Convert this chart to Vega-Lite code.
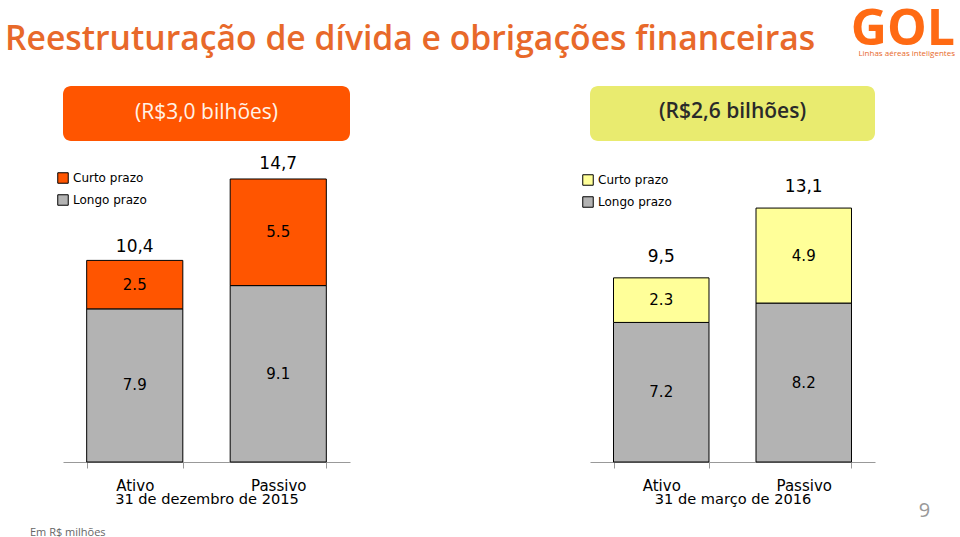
{
  "$schema": "https://vega.github.io/schema/vega-lite/v6.json",
  "background": "white",
  "padding": {"left": 5, "top": 5, "right": 0, "bottom": 0},
  "title": {"text": "Reestruturação de dívida e obrigações financeiras", "anchor": "start", "frame": "group", "color": "#E8692A", "font": "Open Sans", "fontSize": 33.7, "fontWeight": 600, "offset": -52, "dx": -58},
  "datasets": {
    "dez2015": [
      {"conta": "Ativo", "prazo": "Longo prazo", "valor": 7.9},
      {"conta": "Ativo", "prazo": "Curto prazo", "valor": 2.5},
      {"conta": "Passivo", "prazo": "Longo prazo", "valor": 9.1},
      {"conta": "Passivo", "prazo": "Curto prazo", "valor": 5.5}
    ],
    "dez2015_total": [
      {"conta": "Ativo", "total": 10.4},
      {"conta": "Passivo", "total": 14.7}
    ],
    "mar2016": [
      {"conta": "Ativo", "prazo": "Longo prazo", "valor": 7.2},
      {"conta": "Ativo", "prazo": "Curto prazo", "valor": 2.3},
      {"conta": "Passivo", "prazo": "Longo prazo", "valor": 8.2},
      {"conta": "Passivo", "prazo": "Curto prazo", "valor": 4.9}
    ],
    "mar2016_total": [
      {"conta": "Ativo", "total": 9.5},
      {"conta": "Passivo", "total": 13.1}
    ]
  },
  "spacing": 527,
  "bounds": "flush",
  "resolve": {"scale": {"color": "independent", "x": "independent", "y": "independent"}, "legend": {"color": "independent"}},
  "hconcat": [
    {
      "spacing": 0,
      "bounds": "flush",
      "resolve": {"scale": {"color": "independent", "x": "independent", "y": "independent"}},
      "vconcat": [
        {
          "width": 287,
          "height": 55,
          "view": {"fill": "#FF5500", "cornerRadius": 8, "stroke": null},
          "data": {"values": [{}]},
          "mark": {"type": "text", "text": "(R$3,0 bilhões)", "font": "Open Sans", "fontSize": 21, "color": "#FFF2E6", "baseline": "middle", "dy": -1},
          "encoding": {}
        },
        {
          "width": 287,
          "height": 321,
          "title": {"text": "Em R$ milhões", "orient": "bottom", "anchor": "start", "frame": "group", "dx": -33, "offset": 21, "fontSize": 11, "fontWeight": "normal", "color": "#666666", "font": "Open Sans"},
          "layer": [
            {
              "data": {"name": "dez2015"},
              "mark": {"type": "bar", "stroke": "#000000", "strokeWidth": 1},
              "encoding": {
                "x": {"field": "conta", "type": "nominal", "sort": ["Ativo", "Passivo"], "scale": {"paddingInner": 0.33, "paddingOuter": 0.165}, "axis": {"title": "31 de dezembro de 2015"}},
                "y": {"field": "valor", "type": "quantitative", "stack": "zero", "scale": {"domain": [0, 16.56]}, "axis": null},
                "color": {"field": "prazo", "type": "nominal", "scale": {"domain": ["Curto prazo", "Longo prazo"], "range": ["#FF5500", "#B3B3B3"]}, "legend": {"title": null, "orient": "none", "legendX": -6, "legendY": 31}},
                "order": {"field": "prazo", "type": "nominal", "sort": "descending"}
              }
            },
            {
              "data": {"name": "dez2015"},
              "transform": [
                {"stack": "valor", "groupby": ["conta"], "sort": [{"field": "prazo", "order": "descending"}], "as": ["v0", "v1"]},
                {"fold": ["v0", "v1"], "as": ["borda", "nivel"]},
                {"aggregate": [{"op": "mean", "field": "nivel", "as": "meio"}], "groupby": ["conta", "prazo", "valor"]}
              ],
              "mark": {"type": "text", "font": "DejaVu Sans", "fontSize": 15, "color": "#000000", "baseline": "middle"},
              "encoding": {
                "x": {"field": "conta", "type": "nominal", "sort": ["Ativo", "Passivo"]},
                "y": {"field": "meio", "type": "quantitative", "scale": {"domain": [0, 16.56]}},
                "text": {"field": "valor", "type": "nominal"}
              }
            },
            {
              "data": {"name": "dez2015_total"},
              "mark": {"type": "text", "font": "DejaVu Sans", "fontSize": 17, "color": "#000000", "baseline": "alphabetic", "dy": -8},
              "encoding": {
                "x": {"field": "conta", "type": "nominal", "sort": ["Ativo", "Passivo"]},
                "y": {"field": "total", "type": "quantitative", "scale": {"domain": [0, 16.56]}},
                "text": {"field": "total", "type": "quantitative", "format": ".1f"}
              }
            }
          ]
        }
      ]
    },
    {
      "spacing": 0,
      "bounds": "flush",
      "resolve": {"scale": {"color": "independent", "x": "independent", "y": "independent"}},
      "vconcat": [
        {
          "width": 285,
          "height": 55,
          "view": {"fill": "#E9EB6F", "cornerRadius": 8, "stroke": null},
          "title": {"text": "GOL", "subtitle": "Linhas aéreas inteligentes", "orient": "top", "anchor": "end", "frame": "group", "dx": 80, "offset": 28, "fontSize": 50, "fontWeight": "bold", "color": "#FF6A13", "font": "Open Sans", "subtitleFontSize": 8, "subtitleColor": "#E8692A", "subtitleFont": "Open Sans", "subtitlePadding": -5},
          "data": {"values": [{}]},
          "mark": {"type": "text", "text": "(R$2,6 bilhões)", "font": "Open Sans", "fontSize": 21, "fontWeight": 600, "color": "#2A2A2A", "baseline": "middle", "dy": -2},
          "encoding": {}
        },
        {
          "width": 285,
          "height": 321,
          "layer": [
            {
              "data": {"name": "mar2016"},
              "mark": {"type": "bar", "stroke": "#000000", "strokeWidth": 1},
              "encoding": {
                "x": {"field": "conta", "type": "nominal", "sort": ["Ativo", "Passivo"], "scale": {"paddingInner": 0.33, "paddingOuter": 0.165}, "axis": {"title": "31 de março de 2016"}},
                "y": {"field": "valor", "type": "quantitative", "stack": "zero", "scale": {"domain": [0, 16.56]}, "axis": {"orient": "right", "domain": false, "ticks": false, "labels": false, "grid": false, "title": "9", "titleAngle": 0, "titleColor": "#999999", "titleFontSize": 20, "titleFont": "Open Sans", "titleFontWeight": "normal", "titleX": 49, "titleY": 375, "titleAlign": "center", "titleBaseline": "alphabetic"}},
                "color": {"field": "prazo", "type": "nominal", "scale": {"domain": ["Curto prazo", "Longo prazo"], "range": ["#FFFF99", "#B3B3B3"]}, "legend": {"title": null, "orient": "none", "legendX": -8, "legendY": 33}},
                "order": {"field": "prazo", "type": "nominal", "sort": "descending"}
              }
            },
            {
              "data": {"name": "mar2016"},
              "transform": [
                {"stack": "valor", "groupby": ["conta"], "sort": [{"field": "prazo", "order": "descending"}], "as": ["v0", "v1"]},
                {"fold": ["v0", "v1"], "as": ["borda", "nivel"]},
                {"aggregate": [{"op": "mean", "field": "nivel", "as": "meio"}], "groupby": ["conta", "prazo", "valor"]}
              ],
              "mark": {"type": "text", "font": "DejaVu Sans", "fontSize": 15, "color": "#000000", "baseline": "middle"},
              "encoding": {
                "x": {"field": "conta", "type": "nominal", "sort": ["Ativo", "Passivo"]},
                "y": {"field": "meio", "type": "quantitative", "scale": {"domain": [0, 16.56]}},
                "text": {"field": "valor", "type": "nominal"}
              }
            },
            {
              "data": {"name": "mar2016_total"},
              "mark": {"type": "text", "font": "DejaVu Sans", "fontSize": 17, "color": "#000000", "baseline": "alphabetic", "dy": -16},
              "encoding": {
                "x": {"field": "conta", "type": "nominal", "sort": ["Ativo", "Passivo"]},
                "y": {"field": "total", "type": "quantitative", "scale": {"domain": [0, 16.56]}},
                "text": {"field": "total", "type": "quantitative", "format": ".1f"}
              }
            }
          ]
        }
      ]
    }
  ],
  "config": {
    "locale": {"number": {"decimal": ",", "thousands": ".", "grouping": [3], "currency": ["R$ ", ""]}},
    "view": {"stroke": null},
    "axisX": {"domainColor": "#999999", "tickColor": "#999999", "tickSize": 6, "tickBand": "extent", "labelAngle": 0, "labelFont": "DejaVu Sans", "labelFontSize": 15, "labelColor": "#000000", "labelPadding": 10, "titleFont": "DejaVu Sans", "titleFontSize": 14.6, "titleFontWeight": "normal", "titleColor": "#000000", "titlePadding": -2, "grid": false},
    "legend": {"symbolType": "square", "symbolSize": 110, "symbolStrokeColor": "#000000", "symbolStrokeWidth": 1, "symbolOpacity": 1, "labelFont": "DejaVu Sans", "labelFontSize": 12, "labelColor": "#000000", "rowPadding": 6, "labelOffset": 4}
  }
}
